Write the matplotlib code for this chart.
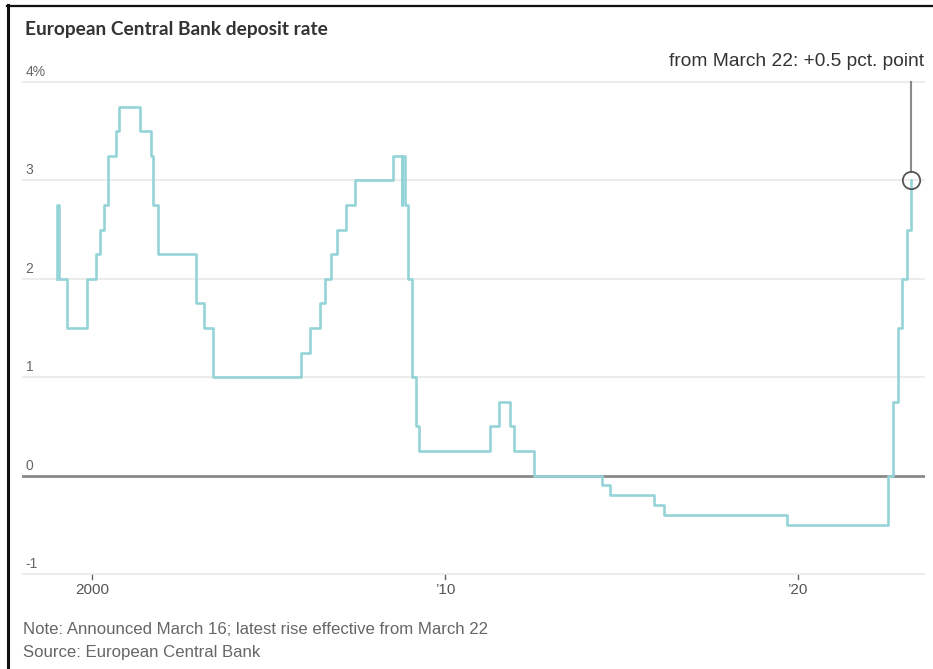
import datetime as dt
import matplotlib.pyplot as plt
import matplotlib.dates as mdates
from matplotlib.lines import Line2D

# ECB deposit facility rate, change dates and new level (%)
dates = [
    "1999-01-01", "1999-01-04", "1999-01-22", "1999-04-09", "1999-11-05",
    "2000-02-04", "2000-03-17", "2000-04-28", "2000-06-09", "2000-09-01",
    "2000-10-06", "2001-05-11", "2001-08-31", "2001-09-18", "2001-11-09",
    "2002-12-06", "2003-03-07", "2003-06-06", "2005-12-06", "2006-03-08",
    "2006-06-15", "2006-08-09", "2006-10-11", "2006-12-13", "2007-03-14",
    "2007-06-13", "2008-07-09", "2008-10-08", "2008-10-09", "2008-11-12",
    "2008-12-10", "2009-01-21", "2009-03-11", "2009-04-08", "2011-04-13",
    "2011-07-13", "2011-11-09", "2011-12-14", "2012-07-11", "2014-06-11",
    "2014-09-10", "2015-12-09", "2016-03-16", "2019-09-18", "2022-07-27",
    "2022-09-14", "2022-11-02", "2022-12-21", "2023-02-08", "2023-03-22",
]
rates = [
    2.00, 2.75, 2.00, 1.50, 2.00,
    2.25, 2.50, 2.75, 3.25, 3.50,
    3.75, 3.50, 3.25, 2.75, 2.25,
    1.75, 1.50, 1.00, 1.25, 1.50,
    1.75, 2.00, 2.25, 2.50, 2.75,
    3.00, 3.25, 2.75, 3.25, 2.75,
    2.00, 1.00, 0.50, 0.25, 0.50,
    0.75, 0.50, 0.25, 0.00, -0.10,
    -0.20, -0.30, -0.40, -0.50, 0.00,
    0.75, 1.50, 2.00, 2.50, 3.00,
]
y_ticks = [-1, 0, 1, 2, 3, 4]
y_labels = ["-1", "0", "1", "2", "3", "4%"]
x_ticks = ["2000-01-01", "2010-01-01", "2020-01-01"]
x_labels = ["2000", "\u201910", "\u201920"]

days = [dt.datetime.strptime(d, "%Y-%m-%d") for d in dates]
tick_days = [dt.datetime.strptime(d, "%Y-%m-%d") for d in x_ticks]

W, H = 933, 669
fig = plt.figure(figsize=(W / 100, H / 100), dpi=100)
plt.rcParams["font.family"] = ["Liberation Sans", "DejaVu Sans"]

# axes: x 22..925 px, y 70..580 px
ax = fig.add_axes([22 / W, 1 - 580 / H, (925 - 22) / W, (580 - 70) / H])
ax.set_xlim(dt.datetime(1998, 1, 3), dt.datetime(2023, 8, 13))
ax.set_ylim(-1.061, 4.122)
for s in ax.spines.values():
    s.set_visible(False)
ax.set_xticks([])
ax.set_yticks([])

# grid
for v, lab in zip(y_ticks, y_labels):
    if v == 0:
        ax.axhline(v, color="#8a8a8a", lw=2, zorder=1)
    else:
        ax.axhline(v, color="#ececec", lw=1.5, zorder=0)
    ax.text(0.004, v + 0.03, lab, transform=ax.get_yaxis_transform(),
            ha="left", va="bottom", fontsize=10, color="#666666")

# x ticks below the -1 line
for d, lab in zip(tick_days, x_labels):
    ax.plot([d, d], [-1.01, -1.05], color="#666666", lw=1, clip_on=False)
    ax.text(d, -1.09, lab, ha="center", va="top", fontsize=11, color="#555555")

ax.step(days, rates, where="post", color="#94d4d8", lw=1.9, zorder=3)

# last point marker and leader
last = days[-1]
ax.plot([last, last], [3.09, 4.0], color="#8a8a8a", lw=1.5, zorder=4)
ax.plot([last], [rates[-1]], marker="o", ms=12.5, mfc="none", mec="#555555",
        mew=1.3, zorder=5)

fig.text(924 / W, 1 - 61 / H, "from March 22: +0.5 pct. point", ha="right",
         va="center", fontsize=13.8, color="#333333")

fig.text(25 / W, 1 - 30 / H, "European Central Bank deposit rate",
         family=["Lato", "DejaVu Sans"], fontweight="bold", fontsize=13.8,
         ha="left", va="center", color="#333333")
fig.text(23 / W, 1 - 630 / H,
         "Note: Announced March 16; latest rise effective from March 22",
         fontsize=12.1, color="#666666", ha="left", va="center")
fig.text(23 / W, 1 - 653 / H, "Source: European Central Bank",
         fontsize=12.1, color="#666666", ha="left", va="center")

# screenshot frame (left and top edges)
fig.add_artist(Line2D([8 / W, 8 / W], [0, 1 - 5 / H], color="#111111", lw=2.2))
fig.add_artist(Line2D([7 / W, 1], [1 - 5.5 / H, 1 - 5.5 / H], color="#111111", lw=1.6))

fig.savefig("out.png", dpi=100)
